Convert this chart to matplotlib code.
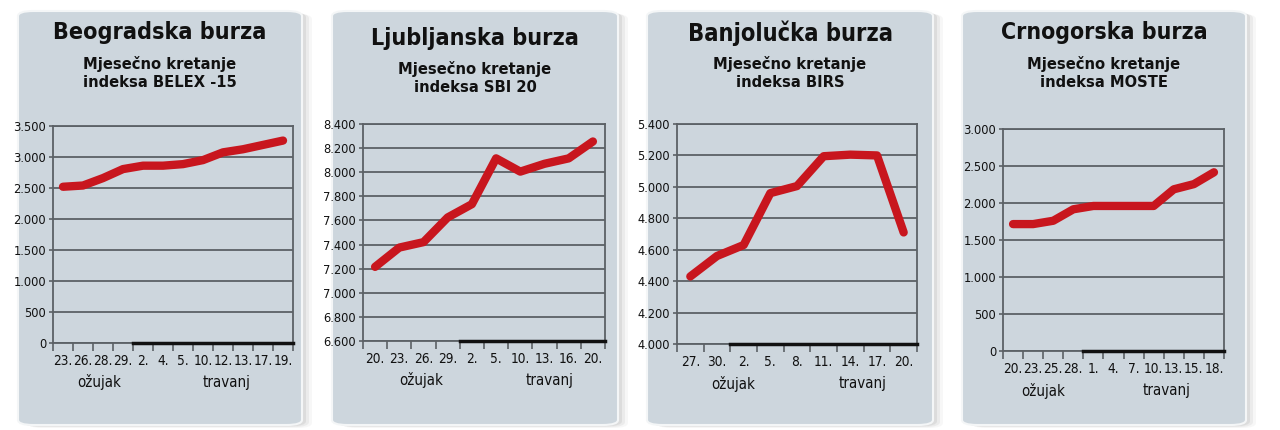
import os
import matplotlib
matplotlib.use("Agg")
import matplotlib.pyplot as plt
from matplotlib import font_manager as fm
from matplotlib.patches import FancyBboxPatch
from matplotlib.lines import Line2D

# --- data ---
beo_title = "Beogradska burza"
beo_sub = "Mjesečno kretanje\nindeksa BELEX -15"
beo_days = ["23.", "26.", "28.", "29.", "2.", "4.", "5.", "10.", "12.", "13.", "17.", "19."]
beo_vals = [2520, 2540, 2660, 2805, 2860, 2860, 2885, 2950, 3075, 3125, 3195, 3265]
beo_yticks = [0, 500, 1000, 1500, 2000, 2500, 3000, 3500]
beo_ylabels = ["0", "500", "1.000", "1.500", "2.000", "2.500", "3.000", "3.500"]

lju_title = "Ljubljanska burza"
lju_sub = "Mjesečno kretanje\nindeksa SBI 20"
lju_days = ["20.", "23.", "26.", "29.", "2.", "5.", "10.", "13.", "16.", "20."]
lju_vals = [7215, 7375, 7420, 7625, 7735, 8115, 8005, 8070, 8115, 8255]
lju_yticks = [6600, 6800, 7000, 7200, 7400, 7600, 7800, 8000, 8200, 8400]
lju_ylabels = ["6.600", "6.800", "7.000", "7.200", "7.400", "7.600", "7.800", "8.000", "8.200", "8.400"]

ban_title = "Banjolučka burza"
ban_sub = "Mjesečno kretanje\nindeksa BIRS"
ban_days = ["27.", "30.", "2.", "5.", "8.", "11.", "14.", "17.", "20."]
ban_vals = [4430, 4560, 4630, 4960, 5005, 5195, 5205, 5200, 4710]
ban_yticks = [4000, 4200, 4400, 4600, 4800, 5000, 5200, 5400]
ban_ylabels = ["4.000", "4.200", "4.400", "4.600", "4.800", "5.000", "5.200", "5.400"]

crn_title = "Crnogorska burza"
crn_sub = "Mjesečno kretanje\nindeksa MOSTE"
crn_days = ["20.", "23.", "25.", "28.", "1.", "4.", "7.", "10.", "13.", "15.", "18."]
crn_vals = [1715, 1715, 1760, 1915, 1960, 1960, 1960, 1960, 2185, 2255, 2415]
crn_yticks = [0, 500, 1000, 1500, 2000, 2500, 3000]
crn_ylabels = ["0", "500", "1.000", "1.500", "2.000", "2.500", "3.000"]

months = ["ožujak", "travanj"]


# look for a narrow font among the installed files, else plain DejaVu
def pick(names):
    files = {os.path.basename(f.fname).lower(): f.fname for f in fm.fontManager.ttflist}
    for nm in names:
        if nm.lower() in files:
            return fm.FontProperties(fname=files[nm.lower()])
    return None


bold_fp = pick(["LiberationSansNarrow-Bold.ttf", "DejaVuSansCondensed-Bold.ttf",
                "NotoSans-CondensedBold.ttf", "RobotoCondensed-Bold.ttf", "Lato-Bold.ttf",
                "Roboto-Bold.ttf"]) or fm.FontProperties(family="DejaVu Sans", weight="bold")
tick_fp = pick(["NotoSans-CondensedMedium.ttf", "LiberationSansNarrow-Regular.ttf",
                "DejaVuSansCondensed.ttf", "NotoSans-Condensed.ttf", "RobotoCondensed-Regular.ttf",
                "Lato-Medium.ttf", "Roboto-Medium.ttf"]) or fm.FontProperties(family="DejaVu Sans")

W, H = 1280, 430
fig = plt.figure(figsize=(12.8, 4.3), dpi=100)
fig.patch.set_facecolor("white")
rend = fig.canvas.get_renderer()


def fit_size(fp, sample, target_px):
    t = fig.text(0, 0, sample, fontproperties=fp, fontsize=10)
    w = t.get_window_extent(rend).width
    t.remove()
    return 10 * target_px / w


ytick_size = min(11, fit_size(tick_fp, "3.500", 33))
xtick_size = min(11, fit_size(tick_fp, "20.", 19.5))
month_size = min(11, fit_size(tick_fp, "ožujak", 44))
sub_size = fit_size(bold_fp, "Mjesečno kretanje", 152)

panel_col = "#cdd6dd"
red = "#c8161e"
grid_col = "#5c6166"

# panel box (left, right, top, bottom), axes box, title y, title width, month label x, april start
panels = [
    dict(title=beo_title, sub=beo_sub, days=beo_days, vals=beo_vals, yt=beo_yticks, yl=beo_ylabels,
         box=(18, 302, 11, 425), ax=(53, 293, 126, 343), ty=33, tw=212, months_x=(1.8, 8.2), april=3.5),
    dict(title=lju_title, sub=lju_sub, days=lju_days, vals=lju_vals, yt=lju_yticks, yl=lju_ylabels,
         box=(332, 618, 11, 425), ax=(363, 605, 124, 341), ty=38, tw=207, months_x=(1.9, 7.2), april=3.5),
    dict(title=ban_title, sub=ban_sub, days=ban_days, vals=ban_vals, yt=ban_yticks, yl=ban_ylabels,
         box=(647, 933, 11, 425), ax=(677, 917, 124, 344), ty=33, tw=204, months_x=(1.6, 6.45), april=1.5),
    dict(title=crn_title, sub=crn_sub, days=crn_days, vals=crn_vals, yt=crn_yticks, yl=crn_ylabels,
         box=(962, 1246, 11, 425), ax=(1003, 1224, 129, 351), ty=33, tw=206, months_x=(1.5, 7.65), april=3.5),
]

for p in panels:
    l, r, t, b = p["box"]
    # soft shadow on the right / bottom
    for k, a in zip([10, 7, 4], [0.06, 0.09, 0.13]):
        sh = FancyBboxPatch(((l + k) / W, 1 - (b + k * 0.3) / H), (r - l) / W, (b - t) / H,
                            boxstyle="round,pad=0,rounding_size=0.012", transform=fig.transFigure,
                            facecolor="#7a7a7a", edgecolor="none", alpha=a, zorder=0)
        fig.patches.append(sh)
    box = FancyBboxPatch((l / W, 1 - b / H), (r - l) / W, (b - t) / H,
                         boxstyle="round,pad=0,rounding_size=0.012", transform=fig.transFigure,
                         facecolor=panel_col, edgecolor="#f4f6f7", linewidth=1.5, zorder=1)
    fig.patches.append(box)

    cx = (l + r) / 2 / W
    tsize = fit_size(bold_fp, p["title"], p["tw"])
    fig.text(cx, 1 - p["ty"] / H, p["title"], ha="center", va="center", fontproperties=bold_fp,
             fontsize=tsize, color="#111111", zorder=3)
    fig.text(cx, 1 - (p["ty"] + 40) / H, p["sub"], ha="center", va="center", fontproperties=bold_fp,
             fontsize=sub_size, color="#111111", linespacing=1.2, zorder=3)

    al, ar, at, ab = p["ax"]
    ax = fig.add_axes([al / W, 1 - ab / H, (ar - al) / W, (ab - at) / H])
    ax.set_facecolor("none")
    ax.set_zorder(2)
    n = len(p["days"])
    x = list(range(n))
    ax.plot(x, p["vals"], color=red, linewidth=6, solid_capstyle="round",
            solid_joinstyle="round", zorder=3, clip_on=False)
    ax.set_xlim(-0.5, n - 0.5)
    ax.set_ylim(p["yt"][0], p["yt"][-1])
    ax.set_yticks(p["yt"], p["yl"])
    ax.yaxis.grid(True, color=grid_col, linewidth=1.3)
    ax.set_axisbelow(True)

    # tick marks at category boundaries, labels at centres
    ax.set_xticks([i - 0.5 for i in range(n + 1)], [""] * (n + 1))
    ax.set_xticks(x, p["days"], minor=True)
    ax.tick_params(axis="x", which="major", length=6, width=1.2, color=grid_col, direction="out")
    ax.tick_params(axis="x", which="minor", length=0, pad=8, labelcolor="#111111")
    ax.tick_params(axis="y", length=3, width=1.2, color=grid_col, labelcolor="#111111", pad=2)
    for lbl in ax.get_xticklabels(minor=True):
        lbl.set_fontproperties(tick_fp)
        lbl.set_fontsize(xtick_size)
    for lbl in ax.get_yticklabels():
        lbl.set_fontproperties(tick_fp)
        lbl.set_fontsize(ytick_size)
        lbl.set_clip_path(box)
    for s in ax.spines.values():
        s.set_color(grid_col)
        s.set_linewidth(1.3)

    # thicker black base line for April
    ax.add_line(Line2D([p["april"], n - 0.5], [p["yt"][0]] * 2, color="#111111",
                       linewidth=2.5, clip_on=False, zorder=4))

    for mx, mname in zip(p["months_x"], months):
        ax.text(mx, -0.18, mname, transform=ax.get_xaxis_transform(), ha="center", va="center",
                fontproperties=tick_fp, fontsize=month_size, color="#111111")

fig.savefig("out.png", dpi=100, facecolor="white")
